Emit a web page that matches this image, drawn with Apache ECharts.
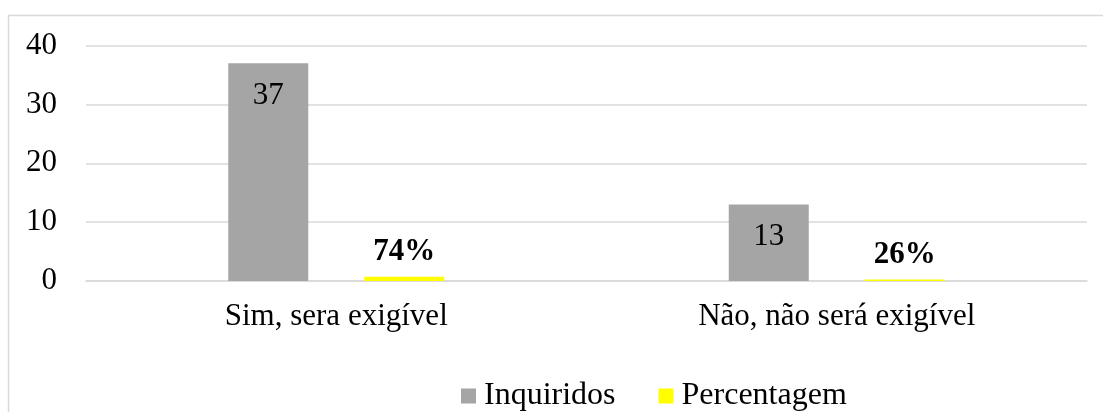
<!DOCTYPE html>
<html>
<head>
<meta charset="utf-8">
<script src="https://cdn.jsdelivr.net/npm/echarts@6/dist/echarts.min.js"></script>
<style>
  html, body { margin: 0; padding: 0; background: #ffffff; }
  #chart { width: 1103px; height: 412px; }
</style>
</head>
<body>
<div id="chart"></div>
<script>
// Survey answers: respondent counts and their share
const categories = ['Sim, sera exigível', 'Não, não será exigível'];
const inquiridos = [37, 13];
const percentagem = [0.74, 0.26];
const yTicks = { min: 0, max: 40, interval: 10 };

const FONT = '"Liberation Serif", "Times New Roman", serif';
const chart = echarts.init(document.getElementById('chart'), null, { renderer: 'canvas' });

chart.setOption({
  backgroundColor: '#ffffff',
  animation: false,
  textStyle: { fontFamily: FONT, color: '#000000' },
  graphic: [{
    type: 'rect',
    shape: { x: 8.5, y: 15.5, width: 1200, height: 500 },
    style: { fill: 'none', stroke: '#d9d9d9', lineWidth: 1.5 },
    silent: true
  }],
  grid: { left: 86, right: 16, top: 45.5, bottom: 131 },
  legend: {
    top: 375,
    left: 456,
    padding: 5,
    itemWidth: 15,
    itemHeight: 15,
    itemGap: 43,
    icon: 'rect',
    textStyle: { fontFamily: FONT, fontSize: 32, color: '#000000', padding: [0, 0, 0, 3] },
    data: ['Inquiridos', 'Percentagem']
  },
  xAxis: {
    type: 'category',
    data: categories,
    axisLine: { lineStyle: { color: '#d9d9d9', width: 1.5 } },
    axisTick: { show: false },
    axisLabel: { fontFamily: FONT, fontSize: 31, color: '#000000', margin: 20 }
  },
  yAxis: {
    type: 'value',
    min: yTicks.min,
    max: yTicks.max,
    interval: yTicks.interval,
    axisLine: { show: false },
    axisTick: { show: false },
    axisLabel: { fontFamily: FONT, fontSize: 31, color: '#000000', margin: 29 },
    splitLine: { lineStyle: { color: '#d9d9d9', width: 1.5 } }
  },
  series: [
    {
      name: 'Inquiridos',
      type: 'bar',
      data: inquiridos,
      barWidth: 80,
      barGap: '70%',
      itemStyle: { color: '#a5a5a5' },
      label: {
        show: true,
        position: 'insideTop',
        distance: 17,
        fontFamily: FONT,
        fontSize: 31,
        color: '#000000'
      }
    },
    {
      name: 'Percentagem',
      type: 'bar',
      data: percentagem,
      barWidth: 80,
      itemStyle: { color: '#ffff00' },
      label: {
        show: true,
        position: 'top',
        distance: 9,
        fontFamily: FONT,
        fontSize: 31,
        fontWeight: 'bold',
        color: '#000000',
        formatter: p => Math.round(p.value * 100) + '%'
      }
    }
  ]
});
</script>
</body>
</html>
